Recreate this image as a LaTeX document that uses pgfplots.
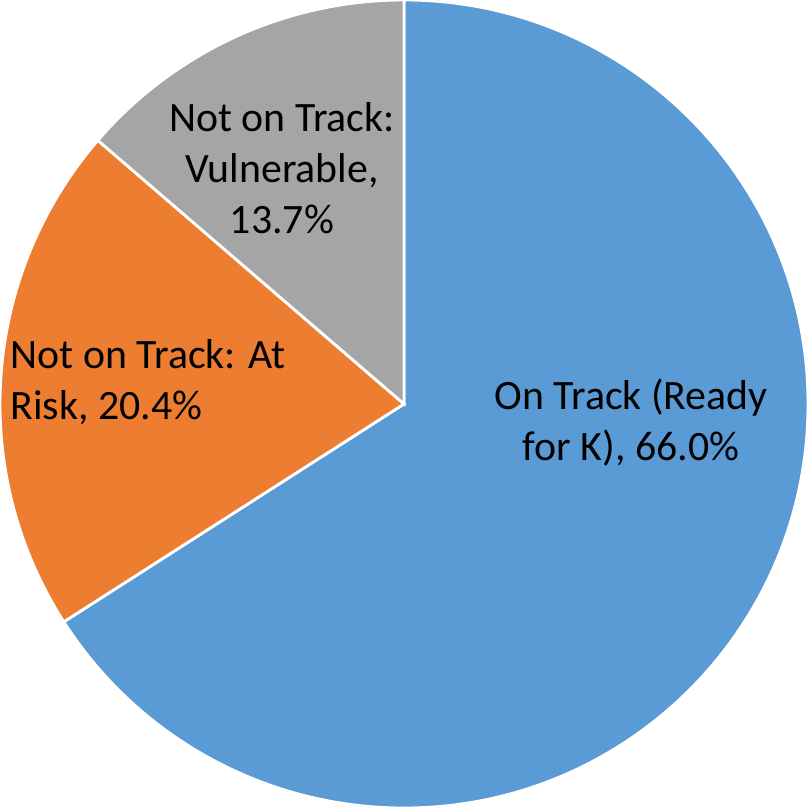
\documentclass[border=0pt]{standalone}
\usepackage{pgfplots}
\pgfplotsset{compat=1.18}
\usepackage{pgfplotstable}
\usepackage{fontspec}
\setmainfont{Carlito}
\definecolor{ontrack}{HTML}{5B9BD5}
\definecolor{atrisk}{HTML}{ED7D31}
\definecolor{vulner}{HTML}{A5A5A5}

% share of children, clockwise from 12 o'clock
\pgfplotstableread{
pct  color
66.0 ontrack
20.4 atrisk
13.7 vulner
}\piedata

\begin{document}
\begin{tikzpicture}[lbl/.style={font=\fontsize{14.9}{18.2}\selectfont, inner sep=0pt}]
\begin{axis}[
  name=pie,
  width=288pt, height=288pt, scale only axis,
  xmin=-1, xmax=1, ymin=-1, ymax=1,
  hide axis, ticks=none, clip=false
]
  \pgfplotstablegetrowsof{\piedata}
  \pgfmathtruncatemacro{\nrows}{\pgfplotsretval-1}
  \def\total{0}
  \pgfplotsforeachungrouped \i in {0,...,\nrows}{
    \pgfplotstablegetelem{\i}{pct}\of{\piedata}
    \pgfmathsetmacro{\total}{\total+\pgfplotsretval}
  }
  \def\startang{90}
  \pgfplotsforeachungrouped \i in {0,...,\nrows}{
    \pgfplotstablegetelem{\i}{pct}\of{\piedata}\let\pct\pgfplotsretval
    \pgfplotstablegetelem{\i}{color}\of{\piedata}\let\col\pgfplotsretval
    \pgfmathsetmacro{\endang}{\startang-(\pct/\total)*360}
    \edef\wedge{\noexpand\fill[\col, draw=white, line width=1pt]
      (axis cs:0,0) -- (axis cs:{cos(\startang)},{sin(\startang)})
      arc[start angle=\startang, end angle=\endang, radius=144pt] -- cycle;}
    \wedge
    \let\startang\endang
  }
  \node[lbl, align=center] at (axis cs:0.562,-0.045) {On Track (Ready\\for K), 66.0\%};
  \node[lbl, align=left, anchor=west] at (axis cs:-0.975,0.054) {Not on Track: At\\Risk, 20.4\%};
  \node[lbl, align=center] at (axis cs:-0.302,0.584) {Not on Track:\\Vulnerable,\\13.7\%};
\end{axis}
\pgfresetboundingbox
\path (pie.south west) rectangle (pie.north east);
\end{tikzpicture}
\end{document}
